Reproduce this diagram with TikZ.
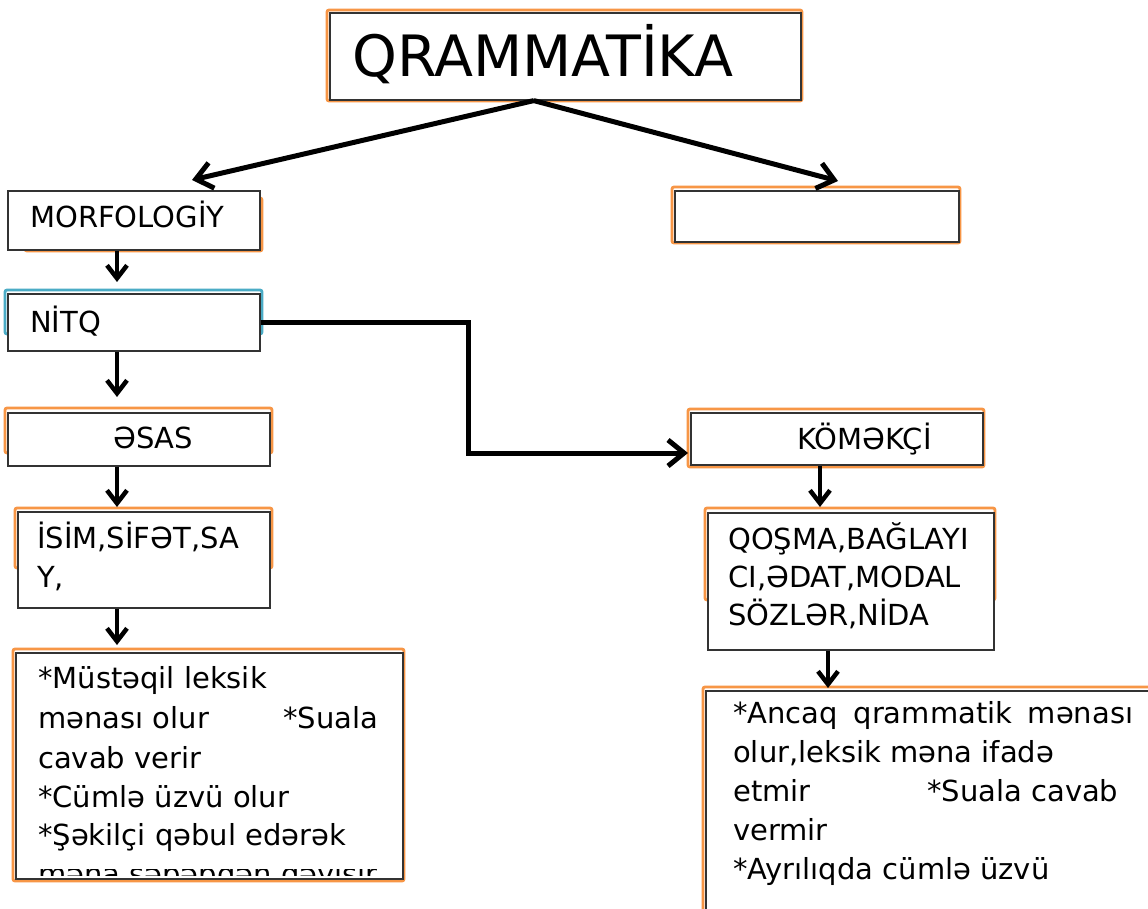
\documentclass[tikz,border=0pt]{standalone}
\usepackage{fontspec}
\setmainfont{DejaVu Sans}
\usetikzlibrary{arrows.meta}
\definecolor{offorange}{HTML}{F79646}
\definecolor{offblue}{HTML}{4BACC6}
\begin{document}
\begin{tikzpicture}[x=1pt,y=-1pt,
  box/.style={draw=black!80, line width=1.6pt, fill=white, rectangle, inner sep=0pt, anchor=north west},
  obar/.style={draw=offorange, line width=2.8pt, rounded corners=2pt},
  bbar/.style={draw=offblue, line width=2.8pt, rounded corners=2pt},
  txt/.style={anchor=base west, inner sep=0pt, font=\fontsize{29}{35}\selectfont},
  titletxt/.style={anchor=base west, inner sep=0pt, font=\fontsize{57}{60}\selectfont},
  arrbig/.style={line width=5pt, -{Straight Barb[length=16pt,width=26pt]}},
  arrsmall/.style={line width=4.5pt, -{Straight Barb[length=13pt,width=20pt]}}]
\useasboundingbox (0,0) rectangle (1148,909);
\fill[white] (0,0) rectangle (1148,909);
\clip (0,0) rectangle (1148,909);

% coloured frames behind the boxes
\draw[obar] (327,10) rectangle (802,101);
\draw[obar] (25,198) rectangle (262,251);
\draw[obar] (672,187) rectangle (960,243);
\draw[bbar] (5,290) rectangle (262,334);
\draw[obar] (5,408) rectangle (272,453);
\draw[obar] (15,508) rectangle (272,568);
\draw[obar] (688,409) rectangle (984,467);
\draw[obar] (705,508) rectangle (995,600);
\draw[obar] (13,649) rectangle (404,881);
\draw[obar] (703,687) rectangle (1170,940);

% boxes
\node[box, minimum width=471pt, minimum height=87pt] (qram) at (329,12) {};
\node[box, minimum width=252pt, minimum height=59pt] (morf) at (7,190) {};
\node[box, minimum width=284pt, minimum height=51pt] (empty) at (674,190) {};
\node[box, minimum width=252pt, minimum height=57pt] (nitq) at (7,293) {};
\node[box, minimum width=262pt, minimum height=53pt] (esas) at (7,412) {};
\node[box, minimum width=252pt, minimum height=96pt] (isim) at (17,511) {};
\node[box, minimum width=292pt, minimum height=52pt] (kom) at (690,412) {};
\node[box, minimum width=286pt, minimum height=137pt] (qos) at (707,512) {};
\node[box, minimum width=387pt, minimum height=226pt] (bl) at (15,652) {};
\node[box, minimum width=460pt, minimum height=240pt] (br) at (705,690) {};

% texts
\node[titletxt] (qramt) at (352,77) {QRAMMATİKA};
\node[txt] (morft) at (30,228) {MORFOLOGİY};
\node[txt] (nitqt) at (30,332) {NİTQ};
\node[txt] (esast) at (113,448) {ƏSAS};
\node[txt] (isim1) at (37,548) {İSİM,SİFƏT,SA};
\node[txt] (isim2) at (37,587) {Y,};
\node[txt] (komt) at (797,449) {KÖMƏKÇİ};
\node[txt] (qos1) at (728,549) {QOŞMA,BAĞLAYI};
\node[txt] (qos2) at (728,587) {CI,ƏDAT,MODAL};
\node[txt] (qos3) at (728,625) {SÖZLƏR,NİDA};

\node[txt] (bl1) at (38,688) {*Müstəqil leksik};
\node[txt] (bl2) at (38,728) {mənası olur};
\node[txt] (bl2b) at (283,728) {*Suala};
\node[txt] (bl3) at (38,768) {cavab verir};
\node[txt] (bl4) at (38,807) {*Cümlə üzvü olur};
\node[txt] (bl5) at (38,845) {*Şəkilçi qəbul edərək};
\begin{scope}
  \clip (15,869) rectangle (402,875);
  \node[txt] (bl6) at (38,884) {məna səbəbdən dəyişir};
\end{scope}

\node[txt] (br1) at (733,723) {\makebox[400pt][s]{*Ancaq qrammatik mənası}};
\node[txt] (br2) at (733,762) {olur,leksik məna ifadə};
\node[txt] (br3) at (733,801) {etmir};
\node[txt] (br3b) at (927,801) {*Suala cavab};
\node[txt] (br4) at (733,840) {vermir};
\node[txt] (br5) at (733,879) {*Ayrılıqda cümlə üzvü};

% connector end points
\path (qram.south) ++(-31.5,0) coordinate (qs);
\coordinate (tipL) at (192,180);
\coordinate (tipR) at (838,181);
\coordinate (a1) at (117,282);
\coordinate (a2) at (117,397);
\coordinate (a3) at (117,507);
\coordinate (a4) at (117,645);
\coordinate (a5) at (820,507);
\coordinate (a6) at (828,688);
\coordinate (kin) at (688,453);
\coordinate (bendx) at (468,0);

% connectors
\draw[arrbig] (qs) -- (tipL);
\draw[arrbig] (qs) -- (tipR);
\draw[arrsmall] (a1 |- morf.south) -- (a1);
\draw[arrsmall] (a2 |- nitq.south) -- (a2);
\draw[arrsmall] (a3 |- esas.south) -- (a3);
\draw[arrsmall] (a4 |- isim.south) -- (a4);
\draw[arrsmall] (a5 |- kom.south) -- (a5);
\draw[arrsmall] (a6 |- qos.south) -- (a6);
\draw[arrbig] (nitq.east) -| (bendx |- kin) -- (kin);
\end{tikzpicture}
\end{document}
